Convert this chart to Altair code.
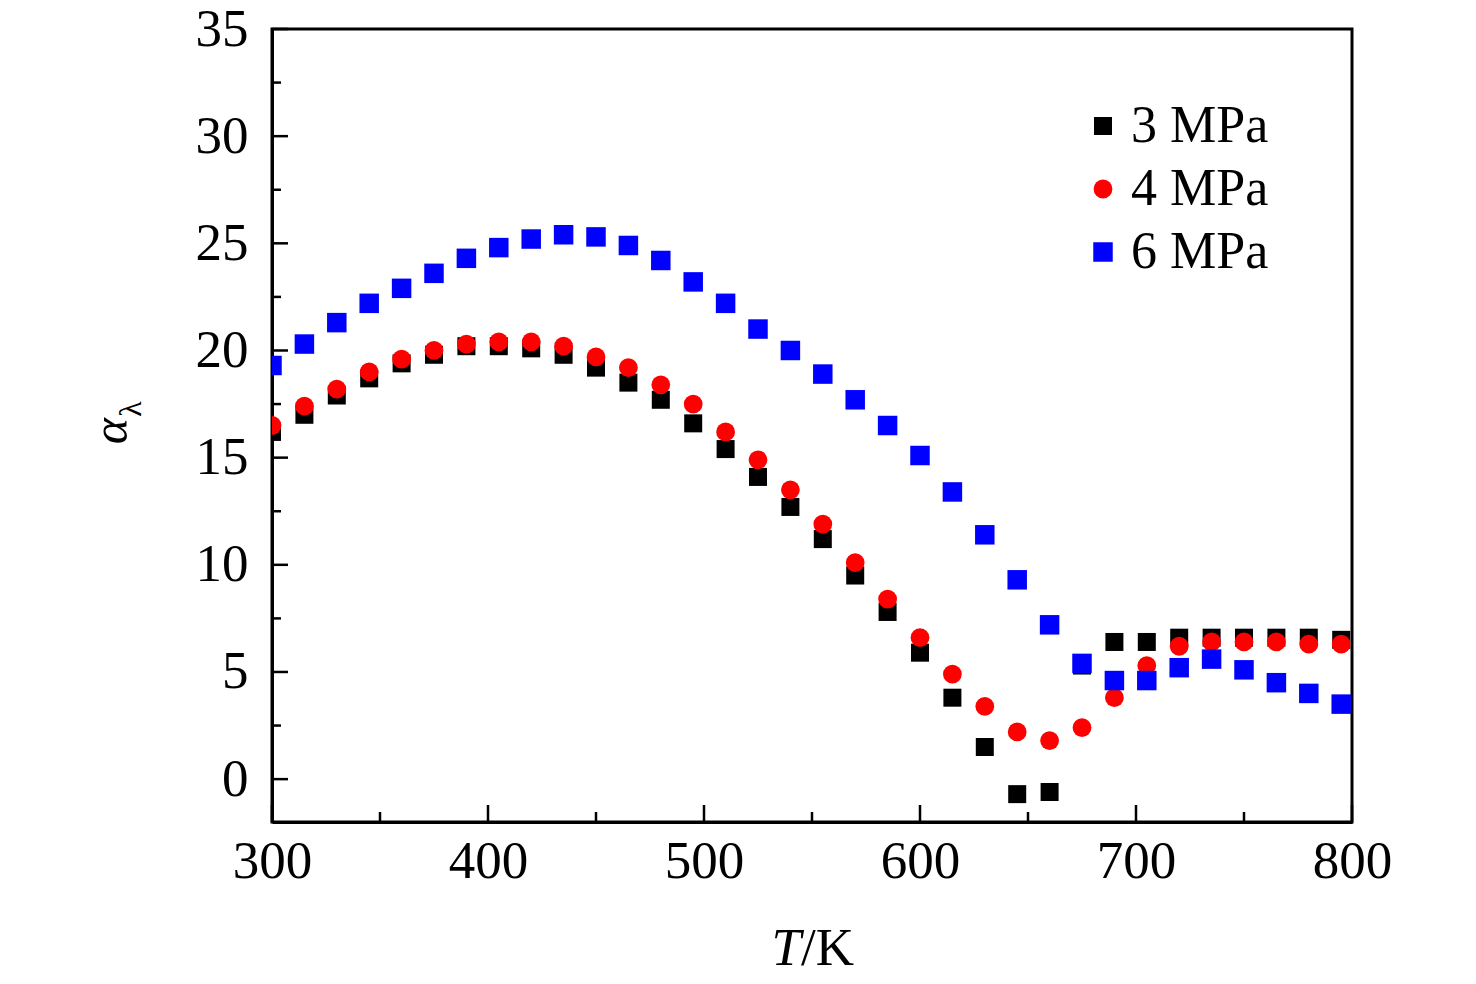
import altair as alt
import pandas as pd

temps = [300, 315, 330, 345, 360, 375, 390, 405, 420, 435, 450, 465, 480, 495,
         510, 525, 540, 555, 570, 585, 600, 615, 630, 645, 660, 675, 690, 705,
         720, 735, 750, 765, 780, 795]

alpha_3 = [16.2, 17.0, 17.9, 18.7, 19.4, 19.8, 20.2, 20.2, 20.1, 19.8, 19.2, 18.5,
           17.7, 16.6, 15.4, 14.1, 12.7, 11.2, 9.5, 7.8, 5.9, 3.8, 1.5, -0.7,
           -0.6, 5.3, 6.4, 6.4, 6.6, 6.6, 6.6, 6.6, 6.6, 6.5]
alpha_4 = [16.5, 17.4, 18.2, 19.0, 19.6, 20.0, 20.3, 20.4, 20.4, 20.2, 19.7, 19.2,
           18.4, 17.5, 16.2, 14.9, 13.5, 11.9, 10.1, 8.4, 6.6, 4.9, 3.4, 2.2,
           1.8, 2.4, 3.8, 5.3, 6.2, 6.4, 6.4, 6.4, 6.3, 6.3]
alpha_6 = [19.3, 20.3, 21.3, 22.2, 22.9, 23.6, 24.3, 24.8, 25.2, 25.4, 25.3, 24.9,
           24.2, 23.2, 22.2, 21.0, 20.0, 18.9, 17.7, 16.5, 15.1, 13.4, 11.4, 9.3,
           7.2, 5.4, 4.6, 4.6, 5.2, 5.6, 5.1, 4.5, 4.0, 3.5]

series = ["3 MPa", "4 MPa", "6 MPa"]
colors = ["#000000", "#ff0000", "#0000ff"]
shapes = ["square", "circle", "square"]
sizes = [324, 380, 324]

x_major = [300, 400, 500, 600, 700, 800]
x_minor = [350, 450, 550, 650, 750]
y_major = [0, 5, 10, 15, 20, 25, 30, 35]
y_minor = [2.5, 7.5, 12.5, 17.5, 22.5, 27.5, 32.5]

rows = []
order = 0
for name, vals in zip(series, [alpha_3, alpha_4, alpha_6]):
    for t, v in zip(temps, vals):
        rows.append({"T": t, "a": v, "p": name, "o": order})
        order += 1
df = pd.DataFrame(rows)

FONT = "Liberation Serif"
W, H = 1080, 793

xscale = alt.Scale(domain=[300, 800], nice=False, zero=False)
yscale = alt.Scale(domain=[-2, 35], nice=False, zero=False)
xaxis = alt.Axis(values=x_major, title=None, ticks=False, grid=False,
                 labelPadding=13, labelFontSize=53, labelFont=FONT,
                 labelColor="black", domainColor="black", domainWidth=3,
                 labelFlush=False)
yaxis = alt.Axis(values=y_major, title=None, ticks=False, grid=False,
                 labelPadding=24, labelFontSize=53, labelFont=FONT,
                 labelColor="black", domainColor="black", domainWidth=3,
                 labelFlush=False)

points = alt.Chart(df).mark_point(filled=True, opacity=1,
                                  strokeWidth=0, clip=True).encode(
    x=alt.X("T:Q", scale=xscale, axis=xaxis),
    y=alt.Y("a:Q", scale=yscale, axis=yaxis),
    color=alt.Color("p:N", scale=alt.Scale(domain=series, range=colors),
                    title=None,
                    legend=alt.Legend(orient="none", legendX=805, legendY=71,
                                      labelFontSize=52, labelFont=FONT,
                                      labelColor="black", symbolSize=256,
                                      rowPadding=11, labelOffset=2, padding=0,
                                      symbolStrokeWidth=0)),
    shape=alt.Shape("p:N", scale=alt.Scale(domain=series, range=shapes),
                    title=None),
    size=alt.Size("p:N", scale=alt.Scale(domain=series, range=sizes),
                  legend=None),
    order=alt.Order("o:Q"),
)

def ytick_layer(vals, length):
    d = pd.DataFrame({"a": vals})
    return alt.Chart(d).mark_rule(color="black", strokeWidth=2.5).encode(
        y=alt.Y("a:Q", scale=yscale, axis=yaxis),
        x=alt.value(0), x2=alt.value(length))

def xtick_layer(vals, length):
    d = pd.DataFrame({"T": vals})
    return alt.Chart(d).mark_rule(color="black", strokeWidth=2.5).encode(
        x=alt.X("T:Q", scale=xscale, axis=xaxis),
        y=alt.value(H), y2=alt.value(H - length))

def label(text, x, y, size, angle=0, style="normal", align="center"):
    d = pd.DataFrame({"t": [text]})
    return alt.Chart(d).mark_text(font=FONT, fontSize=size, fontStyle=style,
                                  angle=angle, align=align,
                                  baseline="alphabetic", color="black").encode(
        text="t:N", x=alt.value(x), y=alt.value(y))

chart = alt.layer(
    ytick_layer(y_major, 16),
    ytick_layer(y_minor, 9),
    xtick_layer(x_major, 17),
    xtick_layer(x_minor, 10),
    points,
    label("α", -145, 402, 50, angle=270, style="italic"),
    label("λ", -131, 380, 32, angle=270),
    label("T", 529, 936, 53, style="italic", align="right"),
    label("/K", 529, 936, 53, align="left"),
).properties(
    width=W, height=H,
    autosize=alt.AutoSizeParams(type="none"),
    padding={"left": 264, "top": 21, "right": 116, "bottom": 154},
    background="white",
).configure_view(stroke="black", strokeWidth=3)

chart.save("out.html", embed_options={"renderer": "svg", "actions": False})
